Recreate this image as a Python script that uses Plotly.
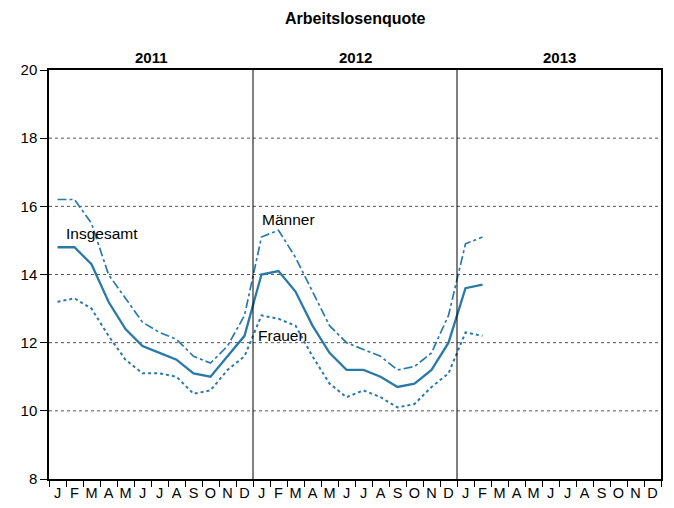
import plotly.graph_objects as go

years = ["2011", "2012", "2013"]
month_letters = ["J", "F", "M", "A", "M", "J", "J", "A", "S", "O", "N", "D"]

insgesamt = [14.8, 14.8, 14.3, 13.2, 12.4, 11.9, 11.7, 11.5, 11.1, 11.0, 11.6, 12.2,
             14.0, 14.1, 13.5, 12.5, 11.7, 11.2, 11.2, 11.0, 10.7, 10.8, 11.2, 12.0,
             13.6, 13.7]
maenner = [16.2, 16.2, 15.5, 14.0, 13.3, 12.6, 12.3, 12.1, 11.6, 11.4, 11.9, 12.8,
           15.1, 15.3, 14.5, 13.5, 12.5, 12.0, 11.8, 11.6, 11.2, 11.3, 11.7, 12.8,
           14.9, 15.1]
frauen = [13.2, 13.3, 13.0, 12.2, 11.5, 11.1, 11.1, 11.0, 10.5, 10.6, 11.2, 11.6,
          12.8, 12.7, 12.5, 11.6, 10.8, 10.4, 10.6, 10.4, 10.1, 10.2, 10.7, 11.1,
          12.3, 12.2]
y_ticks = [8, 10, 12, 14, 16, 18, 20]

color = "#2a7aa8"
font = "Liberation Sans, Arial, sans-serif"

n_months = len(years) * 12
x_all = [i + 0.5 for i in range(n_months)]

fig = go.Figure()
fig.add_trace(go.Scatter(x=x_all[:len(maenner)], y=maenner, mode="lines",
                         line=dict(color=color, width=1.7, dash="dashdot"), name="Männer"))
fig.add_trace(go.Scatter(x=x_all[:len(insgesamt)], y=insgesamt, mode="lines",
                         line=dict(color=color, width=2.3), name="Insgesamt"))
fig.add_trace(go.Scatter(x=x_all[:len(frauen)], y=frauen, mode="lines",
                         line=dict(color=color, width=2, dash="dot"), name="Frauen"))

# gridlines (dotted)
for v in y_ticks[1:-1]:
    fig.add_shape(type="line", xref="x", yref="y", x0=0, x1=n_months, y0=v, y1=v,
                  line=dict(color="#555555", width=1, dash="dot"), layer="below")
# year separators
for k in range(1, len(years)):
    fig.add_shape(type="line", xref="x", yref="y", x0=12 * k, x1=12 * k, y0=8, y1=20,
                  line=dict(color="black", width=1))

# title
fig.add_annotation(x=0.5, y=1.127, xref="paper", yref="paper", text="<b>Arbeitslosenquote</b>",
                   showarrow=False, xanchor="center", yanchor="middle",
                   font=dict(family=font, size=16, color="black"))

# year labels
for k, yr in enumerate(years):
    fig.add_annotation(x=12 * k + 6, y=1.0, xref="x", yref="paper", text="<b>" + yr + "</b>",
                       showarrow=False, yanchor="bottom", yshift=2,
                       font=dict(family=font, size=15, color="black"))

fig.add_annotation(x=-0.3, y=1.0, xref="x", yref="paper", text="%", showarrow=False,
                   xanchor="center", yanchor="bottom", yshift=12,
                   font=dict(family=font, size=15, color="black"))

# series labels
fig.add_annotation(x=0.9, y=15.2, xref="x", yref="y", text="Insgesamt", showarrow=False,
                   xanchor="left", font=dict(family=font, size=15.5, color="black"))
fig.add_annotation(x=12.4, y=15.6, xref="x", yref="y", text="Männer", showarrow=False,
                   xanchor="left", font=dict(family=font, size=15.5, color="black"))
fig.add_annotation(x=12.2, y=12.2, xref="x", yref="y", text="Frauen", showarrow=False,
                   xanchor="left", font=dict(family=font, size=15.5, color="black"))

fig.update_layout(
    width=666, height=500,
    margin=dict(l=41, r=13, t=62, b=29, autoexpand=False),
    paper_bgcolor="white", plot_bgcolor="white",
    showlegend=False,
    font=dict(family=font, color="black"),
)
fig.update_xaxes(range=[0, n_months], showgrid=False, zeroline=False, automargin=False,
                 showline=True, linecolor="black", linewidth=1.5, mirror=True,
                 tickmode="array", tickvals=x_all, ticktext=month_letters * len(years),
                 ticks="", tickfont=dict(family=font, size=14.5, color="black"),
                 minor=dict(tickmode="array", tickvals=list(range(n_months + 1)),
                            ticks="outside", ticklen=6, tickcolor="black", tickwidth=1, showgrid=False))
fig.update_yaxes(range=[8, 20], showgrid=False, zeroline=False, automargin=False,
                 showline=True, linecolor="black", linewidth=1.5, mirror=True,
                 tickmode="array", tickvals=y_ticks, ticks="outside", ticklen=7,
                 tickcolor="black", tickfont=dict(family=font, size=15, color="black"))

fig.write_html("out.html")
